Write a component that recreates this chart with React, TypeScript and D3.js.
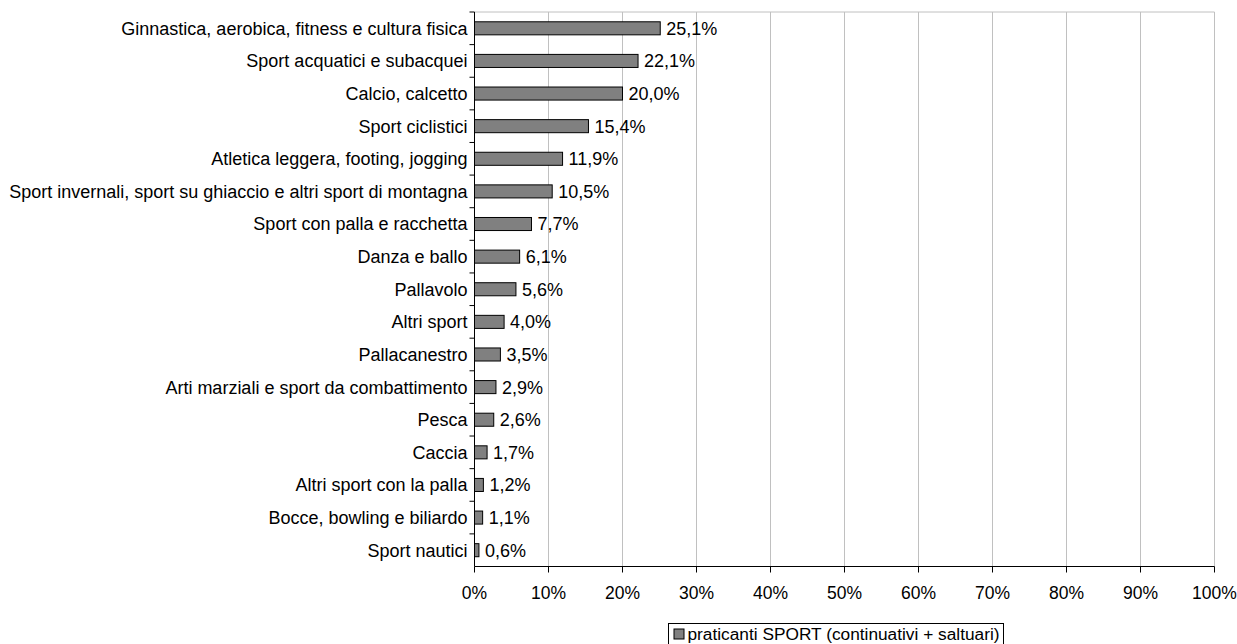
import React, { useEffect, useRef } from 'react';
import * as d3 from 'd3';

const categories = [
  'Ginnastica, aerobica, fitness e cultura fisica',
  'Sport acquatici e subacquei',
  'Calcio, calcetto',
  'Sport ciclistici',
  'Atletica leggera, footing, jogging',
  'Sport invernali, sport su ghiaccio e altri sport di montagna',
  'Sport con palla e racchetta',
  'Danza e ballo',
  'Pallavolo',
  'Altri sport',
  'Pallacanestro',
  'Arti marziali e sport da combattimento',
  'Pesca',
  'Caccia',
  'Altri sport con la palla',
  'Bocce, bowling e biliardo',
  'Sport nautici',
];

const values = [25.1, 22.1, 20.0, 15.4, 11.9, 10.5, 7.7, 6.1, 5.6, 4.0, 3.5, 2.9, 2.6, 1.7, 1.2, 1.1, 0.6];

const xTicks = [0, 10, 20, 30, 40, 50, 60, 70, 80, 90, 100];

const seriesName = 'praticanti SPORT (continuativi + saltuari)';

const App: React.FC = () => {
  const svgRef = useRef<SVGSVGElement>(null);

  useEffect(() => {
    const svg = d3.select(svgRef.current);
    svg.selectAll('*').remove();

    const left = 474.5, right = 1214.5, top = 12, bottom = 566.5;
    const font = 'Liberation Sans, Arial, sans-serif';

    const x = d3.scaleLinear().domain([0, 100]).range([left, right]);
    const y = d3.scaleBand().domain(categories).range([top, bottom]).paddingInner(0.6).paddingOuter(0.3);
    const yTicks = d3.scaleBand().domain(categories).range([top, bottom]);

    const g = svg.append('g');

    // plot frame + gridlines
    g.append('line')
      .attr('x1', left).attr('x2', right).attr('y1', top).attr('y2', top)
      .attr('stroke', '#c0c0c0');
    g.selectAll('.grid')
      .data(xTicks.slice(1))
      .enter()
      .append('line')
      .attr('x1', d => x(d)).attr('x2', d => x(d))
      .attr('y1', top).attr('y2', bottom)
      .attr('stroke', '#c0c0c0');

    // bars
    g.selectAll('.bar')
      .data(values)
      .enter()
      .append('rect')
      .attr('x', left)
      .attr('y', (_d, i) => y(categories[i]) as number)
      .attr('width', d => x(d) - left)
      .attr('height', y.bandwidth())
      .attr('fill', '#808080')
      .attr('stroke', '#000')
      .attr('stroke-width', 1);

    // value labels
    g.selectAll('.val')
      .data(values)
      .enter()
      .append('text')
      .attr('x', d => x(d) + 6)
      .attr('y', (_d, i) => (y(categories[i]) as number) + y.bandwidth() / 2)
      .attr('dy', '0.36em')
      .style('font-family', font)
      .style('font-size', '18px')
      .text(d => d3.format('.1f')(d).replace('.', ',') + '%');

    // category labels
    g.selectAll('.cat')
      .data(categories)
      .enter()
      .append('text')
      .attr('x', left - 7)
      .attr('y', d => (y(d) as number) + y.bandwidth() / 2)
      .attr('dy', '0.36em')
      .attr('text-anchor', 'end')
      .style('font-family', font)
      .style('font-size', '18px')
      .text(d => d);

    // y axis
    g.append('line')
      .attr('x1', left).attr('x2', left).attr('y1', top).attr('y2', bottom)
      .attr('stroke', '#000');
    g.selectAll('.ytick')
      .data(categories)
      .enter()
      .append('line')
      .attr('x1', left - 5).attr('x2', left)
      .attr('y1', d => yTicks(d) as number).attr('y2', d => yTicks(d) as number)
      .attr('stroke', '#000');

    // x axis
    g.append('line')
      .attr('x1', left).attr('x2', right).attr('y1', bottom).attr('y2', bottom)
      .attr('stroke', '#000');
    g.selectAll('.xtick')
      .data(xTicks)
      .enter()
      .append('line')
      .attr('x1', d => x(d)).attr('x2', d => x(d))
      .attr('y1', bottom).attr('y2', bottom + 6)
      .attr('stroke', '#000');
    g.selectAll('.xlab')
      .data(xTicks)
      .enter()
      .append('text')
      .attr('x', d => x(d))
      .attr('y', bottom + 32)
      .attr('text-anchor', 'middle')
      .style('font-family', font)
      .style('font-size', '17.5px')
      .text(d => d + '%');

    // legend
    const legend = g.append('g').attr('transform', 'translate(668.5, 623.5)');
    legend.append('rect')
      .attr('width', 335).attr('height', 22)
      .attr('fill', '#fff').attr('stroke', '#000');
    legend.append('rect')
      .attr('x', 5.5).attr('y', 5.5).attr('width', 10).attr('height', 10)
      .attr('fill', '#808080').attr('stroke', '#000');
    legend.append('text')
      .attr('x', 19).attr('y', 10.5)
      .attr('dy', '0.36em')
      .style('font-family', font)
      .style('font-size', '17.3px')
      .text(seriesName);
  }, []);

  return (
    <svg
      ref={svgRef}
      width={1237}
      height={644}
      style={{ position: 'absolute', left: 0, top: 0, background: '#fff' }}
    />
  );
};

export default App;
